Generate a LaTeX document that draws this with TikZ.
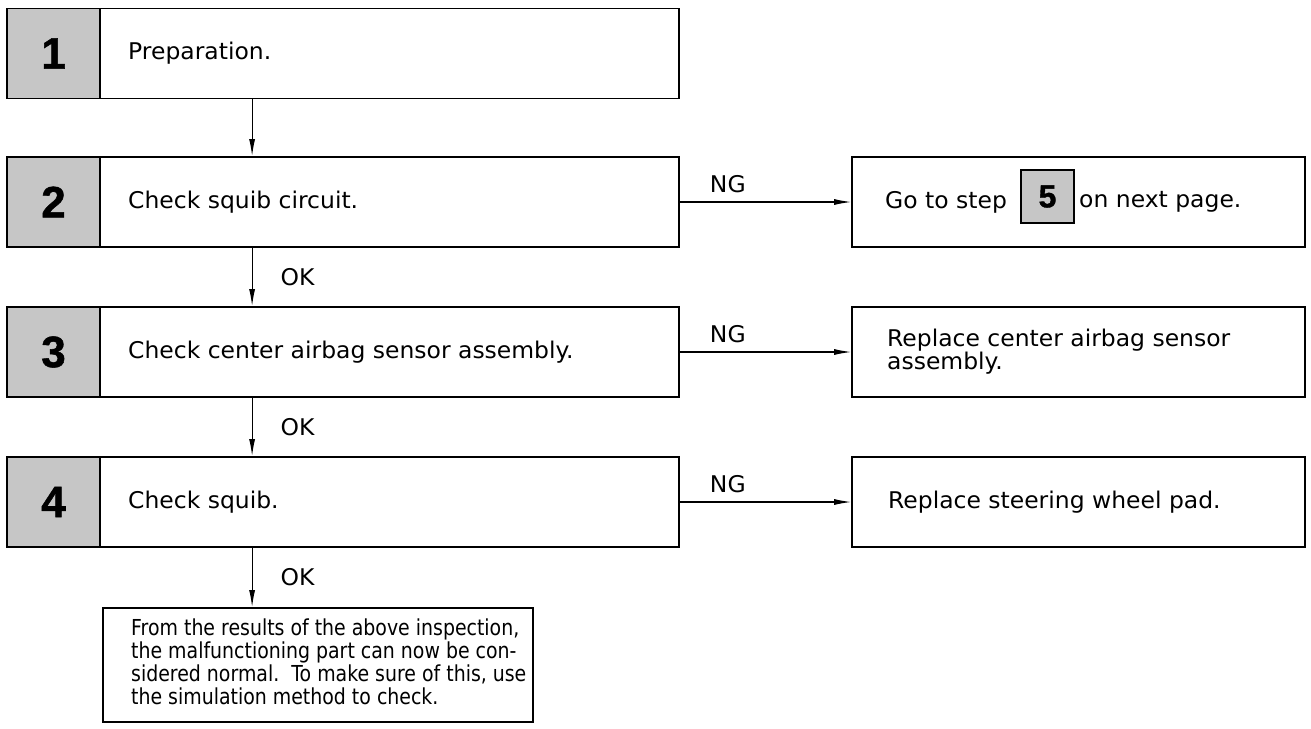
\documentclass[tikz,border=0pt]{standalone}
\usepackage{fontspec}
\setmainfont{DejaVu Sans}[FakeStretch=1.02]
\newfontfamily\condfont{DejaVu Sans}[FakeStretch=0.86]
\newfontfamily\numfont{Liberation Sans}[FakeBold=1.2]
\usetikzlibrary{arrows.meta}
\begin{document}
\begin{tikzpicture}[x=1pt,y=-1pt,
  mainbox/.style={draw,line width=1.8pt,minimum width=672pt,minimum height=90pt,inner sep=0pt},
  sidebox/.style={draw,line width=1.8pt,minimum width=453pt,minimum height=90pt,inner sep=0pt},
  numcell/.style={draw,line width=1.8pt,fill=gray!45,minimum width=93pt,minimum height=90pt,inner sep=0pt,font=\numfont\bfseries\fontsize{44}{44}\selectfont},
  smallnum/.style={draw,line width=1.3pt,fill=gray!45,minimum width=53pt,minimum height=53pt,inner sep=0pt,font=\numfont\bfseries\fontsize{32}{32}\selectfont},
  txt/.style={inner sep=0pt,font=\fontsize{23}{23}\selectfont,align=left},
  lbl/.style={inner sep=0pt,font=\fontsize{23}{23}\selectfont},
  conn/.style={line width=1.1pt,-{Latex[length=17pt,width=6pt]}}
]
\path[use as bounding box] (0,0) rectangle (1311,728);

% left column
\node[mainbox] (b1) at (343,53.5) {};
\node[numcell] (n1) at (53.5,53.5) {1};
\node[txt,anchor=west] (t1) at (128,53.5) {Preparation.};

\node[mainbox] (b2) at (343,202) {};
\node[numcell] (n2) at (53.5,202) {2};
\node[txt,anchor=west] (t2) at (128,202) {Check squib circuit.};

\node[mainbox] (b3) at (343,352) {};
\node[numcell] (n3) at (53.5,352) {3};
\node[txt,anchor=west] (t3) at (128,352) {Check center airbag sensor assembly.};

\node[mainbox] (b4) at (343,502) {};
\node[numcell] (n4) at (53.5,502) {4};
\node[txt,anchor=west] (t4) at (128,502) {Check squib.};

\node[draw,line width=1.8pt,minimum width=430pt,minimum height=114pt,inner sep=0pt] (b5) at (318,665) {};
\node[inner sep=0pt,align=left,anchor=north west,font=\condfont\fontsize{22}{23}\selectfont] (t5) at (131,619) {From the results of the above inspection,\\the malfunctioning part can now be con-\\sidered normal.\ \ To make sure of this, use\\the simulation method to check.};

% right column
\node[sidebox] (r2) at (1078.5,202) {};
\node[txt,anchor=west] (s2a) at (885,202) {Go to step};
\node[smallnum] (s2n) at (1047.5,196.5) {5};
\node[txt,anchor=west] (s2b) at (1079,202) {on next page.};

\node[sidebox] (r3) at (1078.5,352) {};
\node[txt,anchor=west] (s3) at (887,352) {Replace center airbag sensor\\assembly.};

\node[sidebox] (r4) at (1078.5,502) {};
\node[txt,anchor=west] (s4) at (888,502) {Replace steering wheel pad.};

% vertical connectors
\draw[conn] ([xshift=246pt]b1.south west) -- ([xshift=246pt]b2.north west);
\draw[conn] ([xshift=246pt]b2.south west) -- ([xshift=246pt]b3.north west)
  node[lbl,midway,right=28pt] {OK};
\draw[conn] ([xshift=246pt]b3.south west) -- ([xshift=246pt]b4.north west)
  node[lbl,midway,right=28pt] {OK};
\draw[conn] ([xshift=246pt]b4.south west) -- ([xshift=150pt]b5.north west)
  node[lbl,midway,right=28pt] {OK};

% NG connectors
\draw[conn] (b2.east) -- (r2.west) node[lbl,pos=0.28,above=9pt] {NG};
\draw[conn] (b3.east) -- (r3.west) node[lbl,pos=0.28,above=9pt] {NG};
\draw[conn] (b4.east) -- (r4.west) node[lbl,pos=0.28,above=9pt] {NG};
\end{tikzpicture}
\end{document}
